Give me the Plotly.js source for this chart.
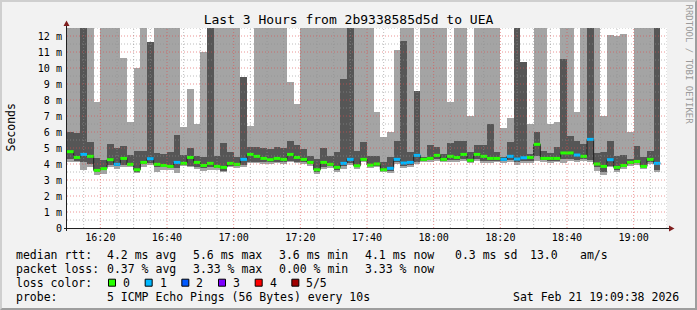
<!DOCTYPE html>
<html><head><meta charset="utf-8">
<script src="https://cdn.plot.ly/plotly-3.0.1.min.js"></script>
<style>
html,body{margin:0;padding:0;background:#f2f2f2;}
#wrap{position:relative;width:697px;height:310px;overflow:hidden;}
#chart{width:697px;height:310px;}
#frame{position:absolute;left:0;top:0;width:697px;height:310px;box-sizing:border-box;border:2px solid;border-color:#cfcfcf #9e9e9e #9e9e9e #cfcfcf;pointer-events:none;}
</style></head><body>
<div id="wrap"><div id="chart"></div><div id="frame"></div></div>
<script>
// ---- data (ms), one entry per 2-minute step starting 16:10 ----
const DAY = '2026-02-21';
const START_MIN = 16 * 60 + 10;   // 16:10
const STEP = 2;                    // minutes per step
const OFF = 13.5;                  // value beyond the top of the chart

const medianRtt = [4.77,4.41,4.60,4.48,3.60,3.71,4.27,3.98,4.35,3.98,
3.64,4.10,4.33,3.98,3.91,3.85,4.10,4.04,4.41,4.10,
3.91,4.04,3.85,3.79,4.04,3.98,4.29,4.60,4.48,4.35,
4.27,4.35,4.29,4.60,4.41,4.29,4.10,3.64,4.10,3.98,
3.79,4.04,4.29,3.89,4.29,3.93,4.00,3.64,3.73,4.29,
4.06,4.10,4.54,4.29,4.35,4.54,4.29,4.48,4.41,4.60,
4.23,4.60,4.48,4.35,4.35,4.29,4.48,4.31,4.39,4.41,
5.23,4.35,4.35,4.35,4.69,4.69,4.56,4.48,5.54,4.00,
3.85,4.27,3.79,3.91,4.10,4.16,3.85,4.29,4.04];

const lossCount = [0,0,1,0,0,0,0,1,0,0,
0,0,1,0,0,0,1,0,0,0,
0,0,0,0,0,0,1,0,0,0,
0,0,0,0,0,0,0,0,0,0,
0,1,1,0,0,0,0,0,1,1,
1,1,1,0,0,0,0,0,0,0,
0,0,0,0,0,1,1,1,1,0,
0,0,0,0,0,0,1,0,1,0,
0,1,0,0,0,0,0,0,1];

// lowest ping (bottom of light smoke)
const ping1 = [4.10,4.10,3.64,3.79,3.31,3.37,3.79,3.69,3.79,3.79,
3.41,3.83,3.94,3.48,3.64,3.64,3.41,3.89,3.83,3.69,
3.58,3.64,3.64,3.48,3.79,3.73,3.79,4.04,4.04,4.00,
4.00,4.06,4.00,4.10,4.06,4.00,3.89,3.37,3.69,3.73,
3.48,3.69,3.94,3.69,4.10,3.73,3.79,3.48,3.44,4.00,
3.73,3.79,4.00,4.10,4.10,4.21,4.10,4.10,4.10,4.21,
4.04,4.21,4.06,4.06,4.10,4.06,4.10,3.94,4.06,4.06,
4.21,4.10,4.06,4.10,4.06,4.21,4.10,4.21,4.10,3.58,
3.31,3.79,3.48,3.69,3.89,3.94,3.69,4.00,3.52];

// second ping (bottom of dark smoke)
const ping2 = [4.31,4.21,4.10,4.00,3.48,3.64,3.94,3.90,3.94,3.94,
3.52,4.00,4.06,3.79,3.79,3.73,3.73,3.94,3.89,3.79,
3.73,3.79,3.73,3.58,3.89,3.85,3.94,4.14,4.14,4.10,
4.10,4.14,4.10,4.21,4.14,4.10,4.00,3.52,3.79,3.85,
3.64,3.85,4.06,3.79,4.19,3.85,3.89,3.58,3.56,4.10,
3.89,3.94,4.14,4.21,4.23,4.31,4.21,4.23,4.23,4.31,
4.14,4.31,4.21,4.19,4.21,4.19,4.23,4.10,4.19,4.19,
4.52,4.23,4.19,4.21,4.31,4.31,4.27,4.31,4.27,3.79,
3.48,3.89,3.64,3.79,4.00,4.06,3.79,4.10,3.64];

// fourth ping (top of dark smoke)
const ping4 = [6.02,5.91,OFF,5.35,4.37,4.23,5.27,4.98,5.14,4.55,
4.83,4.83,11.65,4.68,4.62,4.77,5.79,4.58,5.02,4.48,
4.46,OFF,4.52,5.29,4.73,4.42,9.43,5.08,5.08,4.98,
4.94,5.08,4.98,5.46,5.20,4.96,4.52,4.31,5.00,4.52,
4.73,9.32,OFF,4.83,5.35,4.52,4.52,4.10,4.46,5.46,
11.71,4.73,8.59,4.42,5.20,5.06,4.62,5.29,5.46,5.46,
4.73,5.20,5.20,6.50,4.73,4.42,5.35,OFF,10.40,4.62,
5.98,4.79,4.66,5.04,10.56,5.73,5.46,5.25,OFF,4.66,
4.73,5.46,4.50,4.55,4.31,5.10,4.46,4.83,OFF];

// highest ping (top of light smoke)
const ping5 = [OFF,OFF,OFF,OFF,7.90,OFF,OFF,OFF,10.63,6.64,
9.97,OFF,11.65,OFF,OFF,OFF,OFF,6.29,8.70,6.48,
11.03,OFF,OFF,OFF,OFF,OFF,9.43,6.39,OFF,OFF,
OFF,OFF,OFF,9.15,7.72,OFF,OFF,OFF,OFF,OFF,
OFF,OFF,OFF,OFF,OFF,OFF,7.27,5.66,5.98,11.14,
OFF,OFF,8.59,OFF,OFF,OFF,OFF,7.85,OFF,OFF,
6.98,OFF,OFF,OFF,OFF,6.23,6.85,OFF,10.40,6.50,
OFF,OFF,6.50,6.60,OFF,OFF,7.23,OFF,OFF,OFF,
6.98,12.06,12.02,12.10,6.02,OFF,OFF,OFF,OFF];

const xTickLabels = ['16:20','16:40','17:00','17:20','17:40','18:00','18:20','18:40','19:00'];
const yTickVals = [0,1,2,3,4,5,6,7,8,9,10,11,12];
const yTickLabels = ['0','1 m','2 m','3 m','4 m','5 m','6 m','7 m','8 m','9 m','10 m','11 m','12 m'];
const lossColors = ['#26ff00','#00b8ff','#0059ff','#7e00ff','#ff0000','#a00000'];
const lossLabels = ['0','1','2','3','4','5/5'];

const legendStats = {
  rtt: ['4.2 ms avg','5.6 ms max','3.6 ms min','4.1 ms now','0.3 ms sd','13.0','am/s'],
  loss: ['0.37 % avg','3.33 % max','0.00 % min','3.33 % now']
};
const probeText = '5 ICMP Echo Pings (56 Bytes) every 10s';
const stampText = 'Sat Feb 21 19:09:38 2026';
const titleText = 'Last 3 Hours from 2b9338585d5d to UEA';

// ---- helpers ----
const pad = v => String(v).padStart(2, '0');
function ts(min) {
  const s = Math.round((START_MIN + min) * 60);
  return `${DAY} ${pad(Math.floor(s / 3600))}:${pad(Math.floor(s % 3600 / 60))}:${pad(s % 60)}`;
}
const PL = 67, PT = 28, PW = 600, PH = 200, W = 697, H = 310;
const px2x = p => (p - PL) / PW;
const py2y = p => (PT + PH - p) / PH;
const MONO = 'DejaVu Sans Mono';

const n = medianRtt.length;
const centers = medianRtt.map((_, i) => ts(STEP * i + STEP / 2));

const traces = [];
traces.push({
  type: 'bar', x: centers, base: ping1, y: ping5.map((v, i) => v - ping1[i]),
  width: STEP * 60000, marker: { color: '#a4a4a4', line: { width: 0 } }, hoverinfo: 'skip'
});
traces.push({
  type: 'bar', x: centers, base: ping2, y: ping4.map((v, i) => v - ping2[i]),
  width: STEP * 60000, marker: { color: '#565656', line: { width: 0 } }, hoverinfo: 'skip'
});
traces.push({
  type: 'scatter', mode: 'lines',
  x: medianRtt.map((_, i) => ts(STEP * i)).concat([ts(STEP * n)]),
  y: medianRtt.concat([medianRtt[n - 1]]),
  line: { shape: 'hv', color: '#202020', width: 1 }, hoverinfo: 'skip'
});
lossColors.forEach((c, k) => {
  const xs = [], ys = [];
  medianRtt.forEach((m, i) => {
    if (lossCount[i] === k) { xs.push(ts(STEP * i), ts(STEP * (i + 1)), null); ys.push(m, m, null); }
  });
  if (xs.length) traces.push({ type: 'scatter', mode: 'lines', x: xs, y: ys, line: { color: c, width: 3 }, hoverinfo: 'skip', connectgaps: false });
});

// ---- grid (drawn above the smoke, like rrdtool) ----
const shapes = [];
for (let mm = 5; mm <= 180; mm += 5) {
  const major = (mm - 10) % 20 === 0;
  shapes.push({ type: 'line', layer: 'above', xref: 'x', yref: 'paper', x0: ts(mm), x1: ts(mm), y0: 0, y1: 1,
    line: { color: major ? 'rgba(222,79,79,0.6)' : 'rgba(143,143,143,0.6)', width: 1, dash: '1px,2px' } });
}
for (let k = 1; k <= 25; k++) {
  const v = k * 0.5;
  const major = k % 2 === 0;
  shapes.push({ type: 'line', layer: 'above', xref: 'paper', yref: 'y', x0: 0, x1: 1, y0: v, y1: v,
    line: { color: major ? 'rgba(222,79,79,0.6)' : 'rgba(143,143,143,0.6)', width: 1, dash: '1px,2px' } });
}
// axes with arrows
shapes.push({ type: 'line', layer: 'above', xref: 'paper', yref: 'paper', x0: px2x(64), x1: px2x(670), y0: py2y(228.5), y1: py2y(228.5), line: { color: '#1f1f1f', width: 1 } });
shapes.push({ type: 'line', layer: 'above', xref: 'paper', yref: 'paper', x0: px2x(66.5), x1: px2x(66.5), y0: py2y(231), y1: py2y(25), line: { color: '#1f1f1f', width: 1 } });
const tri = pts => 'M' + pts.map(p => px2x(p[0]) + ',' + py2y(p[1])).join(' L') + ' Z';
shapes.push({ type: 'path', layer: 'above', xref: 'paper', yref: 'paper', path: tri([[669, 225.5], [669, 231.5], [674.5, 228.5]]), fillcolor: '#801f1f', line: { width: 0 } });
shapes.push({ type: 'path', layer: 'above', xref: 'paper', yref: 'paper', path: tri([[63.5, 26], [69.5, 26], [66.5, 20.5]]), fillcolor: '#801f1f', line: { width: 0 } });

// legend colour boxes
lossColors.forEach((c, k) => {
  const x0 = 108.5 + 36.67 * k;
  shapes.push({ type: 'rect', xref: 'paper', yref: 'paper', x0: px2x(x0), x1: px2x(x0 + 7), y0: py2y(286.2), y1: py2y(279.2),
    fillcolor: c, line: { color: '#000', width: 1 } });
});

// ---- texts ----
const annotations = [];
function ann(text, px, py, size, extra) {
  annotations.push(Object.assign({ text, x: px2x(px - 1), y: py2y(py), xref: 'paper', yref: 'paper',
    xanchor: 'left', yanchor: 'middle', showarrow: false, borderpad: 0,
    font: { family: MONO, size, color: '#000' } }, extra || {}));
}
const LF = 11.5;
const L1 = 254.8, L2 = 268.8, L3 = 282.8, L4 = 296.8;
ann('median rtt:', 16, L1, LF);
[107, 193, 279, 365, 455, 530, 580].forEach((x, i) => ann(legendStats.rtt[i], x, L1, LF));
ann('packet loss:', 16, L2, LF);
[107, 193, 279, 365].forEach((x, i) => ann(legendStats.loss[i], x, L2, LF));
ann('loss color:', 16, L3, LF);
lossLabels.forEach((t, k) => ann(t, 123 + 36.67 * k, L3, LF));
ann('probe:', 16, L4, LF);
ann(probeText, 107, L4, LF);
ann(stampText, 513, L4, LF);
// axis unit label
annotations.push({ text: 'Seconds', x: px2x(10.5), y: py2y(128), xref: 'paper', yref: 'paper', xanchor: 'center', yanchor: 'middle',
  textangle: -90, showarrow: false, borderpad: 0, font: { family: MONO, size: 11.5, color: '#000' } });
// watermark
annotations.push({ text: 'RRDTOOL / TOBI OETIKER', x: px2x(688.5), y: py2y(64), xref: 'paper', yref: 'paper', xanchor: 'center', yanchor: 'middle',
  textangle: 90, showarrow: false, borderpad: 0, font: { family: MONO, size: 9, color: '#9a9a9a' } });

const layout = {
  width: W, height: H,
  margin: { l: PL, r: W - PL - PW, t: PT, b: H - PT - PH, pad: 0 },
  paper_bgcolor: '#f2f2f2', plot_bgcolor: '#ffffff',
  font: { family: MONO, color: '#000' },
  showlegend: false, barmode: 'overlay', bargap: 0,
  title: { text: titleText, font: { family: MONO, size: 13, color: '#000' }, x: 0.5, xref: 'container', xanchor: 'center',
    y: 1 - 19.3 / H, yref: 'container', yanchor: 'middle' },
  xaxis: {
    type: 'date', range: [ts(0), ts(180)], fixedrange: true,
    tickvals: xTickLabels.map(l => `${DAY} ${l}:00`), ticktext: xTickLabels,
    showgrid: false, zeroline: false, showline: false, ticks: '',
    tickfont: { family: MONO, size: 10.1, color: '#000' }, ticklabelstandoff: 2
  },
  yaxis: {
    range: [0, 12.5], fixedrange: true,
    tickvals: yTickVals, ticktext: yTickLabels,
    showgrid: false, zeroline: false, showline: false, ticks: '',
    tickfont: { family: MONO, size: 10.1, color: '#000' }, ticklabelstandoff: 4
  },
  shapes, annotations
};
Plotly.newPlot('chart', traces, layout, { staticPlot: true, displayModeBar: false });
</script>
</body></html>
